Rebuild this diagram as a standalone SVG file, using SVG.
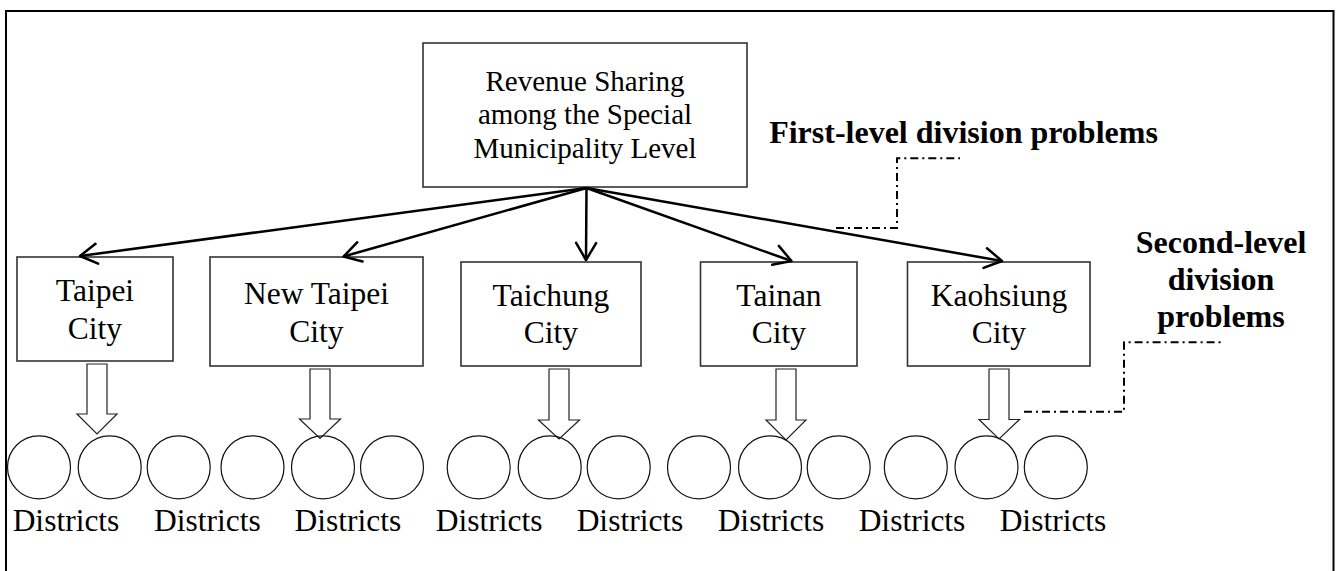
<svg xmlns="http://www.w3.org/2000/svg" width="1340" height="571" viewBox="0 0 1340 571">
<defs>
<style>
.box{fill:#fff;stroke:#333;stroke-width:1.6}
.t{font-family:"Liberation Serif","Times New Roman",serif;fill:#000;text-anchor:middle}
.city{font-size:31.5px}
.top{font-size:29px}
.b{font-family:"Liberation Serif","Times New Roman",serif;font-weight:bold;font-size:32px;fill:#000;text-anchor:middle}
.conn{fill:none;stroke:#000;stroke-width:2.5}
.blk{fill:#fff;stroke:#222;stroke-width:1.2}
.dist{fill:none;stroke:#111;stroke-width:1.2}
.dd{fill:none;stroke:#000;stroke-width:2;stroke-dasharray:8 4 2 4}
</style>
<marker id="ah" viewBox="-20 -12 22 24" markerUnits="userSpaceOnUse" markerWidth="22" markerHeight="24" refX="0" refY="0" orient="auto">
<path d="M-17,-10 L0,0 L-17,10" fill="none" stroke="#000" stroke-width="2.5" stroke-linecap="round" stroke-linejoin="round"/>
</marker>
</defs>
<rect x="6" y="11" width="1327.5" height="570" fill="#fff" stroke="#000" stroke-width="2"/>

<g id="root">
<rect class="box" x="423" y="43" width="324" height="144"/>
<text class="t top" x="585" y="90.7">Revenue Sharing</text>
<text class="t top" x="585" y="124.2">among the Special</text>
<text class="t top" x="585" y="158.3">Municipality Level</text>
</g>

<g id="taipei">
<rect class="box" x="17" y="257" width="156" height="104"/>
<text class="t city" x="95" y="300.7">Taipei</text>
<text class="t city" x="95" y="339">City</text>
</g>
<g id="newtaipei">
<rect class="box" x="210" y="257" width="213" height="109"/>
<text class="t city" x="316.5" y="304">New Taipei</text>
<text class="t city" x="316.5" y="342">City</text>
</g>
<g id="taichung">
<rect class="box" x="461" y="262" width="180" height="104"/>
<text class="t city" x="551" y="306">Taichung</text>
<text class="t city" x="551" y="343.3">City</text>
</g>
<g id="tainan">
<rect class="box" x="700.5" y="262" width="156.5" height="104"/>
<text class="t city" x="779" y="306">Tainan</text>
<text class="t city" x="779" y="343.3">City</text>
</g>
<g id="kaohsiung">
<rect class="box" x="907.5" y="262" width="182.5" height="104"/>
<text class="t city" x="999" y="306">Kaohsiung</text>
<text class="t city" x="999" y="343.3">City</text>
</g>

<g id="connectors">
<line class="conn" x1="586.5" y1="188" x2="80" y2="256" marker-end="url(#ah)"/>
<line class="conn" x1="586.5" y1="188" x2="343.5" y2="256.5" marker-end="url(#ah)"/>
<line class="conn" x1="586.5" y1="188" x2="586" y2="260" marker-end="url(#ah)"/>
<line class="conn" x1="586.5" y1="188" x2="791.5" y2="261" marker-end="url(#ah)"/>
<line class="conn" x1="586.5" y1="188" x2="1002" y2="261" marker-end="url(#ah)"/>
<path class="blk" d="M87,364 H107 V414 H117 L97,434 L77,414 H87 Z"/>
<path class="blk" d="M310,369 H330 V419 H340.5 L320,438.5 L299.5,419 H310 Z"/>
<path class="blk" d="M549,369 H569 V420 H579.5 L559,439 L538.5,420 H549 Z"/>
<path class="blk" d="M776,369 H796 V420 H806 L786,440 L766,420 H776 Z"/>
<path class="blk" d="M989,369 H1009 V419.5 H1019.5 L999,439 L979,419.5 H989 Z"/>
<polyline class="dd" points="836,228 897,228 897,158.3 960,158.3"/>
<polyline class="dd" points="1024,411.7 1124,411.7 1124,342.3 1223,342.3"/>
</g>

<g id="districts">
<circle class="dist" cx="39" cy="467.3" r="31.5"/>
<circle class="dist" cx="109.7" cy="467.3" r="31.5"/>
<circle class="dist" cx="178.7" cy="467.3" r="31.5"/>
<circle class="dist" cx="252.5" cy="467.3" r="31.5"/>
<circle class="dist" cx="323" cy="467.3" r="31.5"/>
<circle class="dist" cx="392" cy="467.3" r="31.5"/>
<circle class="dist" cx="478.7" cy="467.3" r="31.5"/>
<circle class="dist" cx="549.7" cy="467.3" r="31.5"/>
<circle class="dist" cx="618.7" cy="467.3" r="31.5"/>
<circle class="dist" cx="699" cy="467.3" r="31.5"/>
<circle class="dist" cx="770" cy="467.3" r="31.5"/>
<circle class="dist" cx="838.7" cy="467.3" r="31.5"/>
<circle class="dist" cx="915.8" cy="467.3" r="31.5"/>
<circle class="dist" cx="986.5" cy="467.3" r="31.5"/>
<circle class="dist" cx="1055.8" cy="467.3" r="31.5"/>
<text class="t city" x="66" y="531">Districts</text>
<text class="t city" x="207.3" y="531">Districts</text>
<text class="t city" x="347.8" y="531">Districts</text>
<text class="t city" x="489.2" y="531">Districts</text>
<text class="t city" x="630" y="531">Districts</text>
<text class="t city" x="771" y="531">Districts</text>
<text class="t city" x="912" y="531">Districts</text>
<text class="t city" x="1053" y="531">Districts</text>
</g>

<g id="label-first">
<text class="b" x="963.5" y="143.3">First-level division problems</text>
</g>
<g id="label-second">
<text class="b" x="1221" y="252.7">Second-level</text>
<text class="b" x="1221" y="290">division</text>
<text class="b" x="1221" y="326.7">problems</text>
</g>
</svg>
